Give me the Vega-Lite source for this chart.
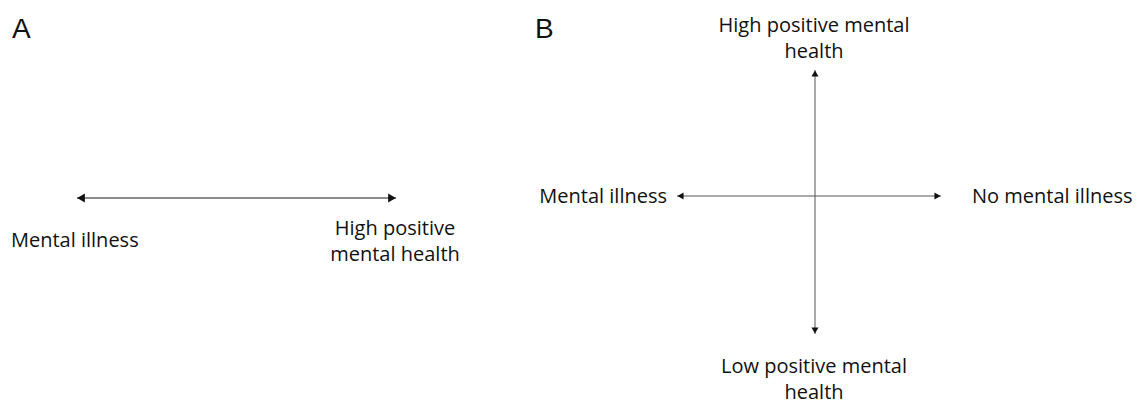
{
  "$schema": "https://vega.github.io/schema/vega-lite/v6.json",
  "width": 1137,
  "height": 405,
  "autosize": {"type": "fit", "contains": "padding"},
  "padding": 0,
  "background": "white",
  "config": {"view": {"stroke": null}},
  "datasets": {
    "lines": [
      {"panel": "A", "x1": 77, "x2": 396, "y1": 198, "y2": 198},
      {"panel": "B", "x1": 677, "x2": 941, "y1": 196, "y2": 196},
      {"panel": "B", "x1": 815, "x2": 815, "y1": 70, "y2": 334}
    ],
    "heads": [
      {"panel": "A", "x": 81, "y": 198, "dir": "left"},
      {"panel": "A", "x": 392, "y": 198, "dir": "right"},
      {"panel": "B", "x": 680.5, "y": 196, "dir": "left"},
      {"panel": "B", "x": 937.5, "y": 196, "dir": "right"},
      {"panel": "B", "x": 815, "y": 73.5, "dir": "up"},
      {"panel": "B", "x": 815, "y": 330.5, "dir": "down"}
    ],
    "labels": [
      {"t": "A", "x": 12, "y": 38, "kind": "letter", "align": "left"},
      {"t": "B", "x": 535, "y": 38, "kind": "letter", "align": "left"},
      {"t": "Mental illness", "x": 11, "y": 247, "kind": "label", "align": "left"},
      {"t": "High positive", "x": 395, "y": 235, "kind": "label", "align": "center"},
      {"t": "mental health", "x": 395, "y": 261, "kind": "label", "align": "center"},
      {"t": "Mental illness", "x": 667, "y": 203, "kind": "label", "align": "right"},
      {"t": "No mental illness", "x": 972, "y": 203, "kind": "label", "align": "left"},
      {"t": "High positive mental", "x": 814, "y": 32, "kind": "label", "align": "center"},
      {"t": "health", "x": 814, "y": 58, "kind": "label", "align": "center"},
      {"t": "Low positive mental", "x": 814, "y": 373, "kind": "label", "align": "center"},
      {"t": "health", "x": 814, "y": 399, "kind": "label", "align": "center"}
    ]
  },
  "layer": [
    {
      "data": {"name": "lines"},
      "transform": [{"filter": "datum.panel === 'A'"}],
      "mark": {"type": "rule", "color": "#8c8c8c", "strokeWidth": 1.8},
      "encoding": {
        "x": {"field": "x1", "type": "quantitative", "scale": {"domain": [0, 1137], "nice": false, "zero": false}, "axis": null},
        "x2": {"field": "x2"},
        "y": {"field": "y1", "type": "quantitative", "scale": {"domain": [0, 405], "nice": false, "zero": false, "reverse": true}, "axis": null},
        "y2": {"field": "y2"}
      }
    },
    {
      "data": {"name": "lines"},
      "transform": [{"filter": "datum.panel === 'B'"}],
      "mark": {"type": "rule", "color": "#555555", "strokeWidth": 1},
      "encoding": {
        "x": {"field": "x1", "type": "quantitative", "scale": {"domain": [0, 1137], "nice": false, "zero": false}, "axis": null},
        "x2": {"field": "x2"},
        "y": {"field": "y1", "type": "quantitative", "scale": {"domain": [0, 405], "nice": false, "zero": false, "reverse": true}, "axis": null},
        "y2": {"field": "y2"}
      }
    },
    {
      "data": {"name": "heads"},
      "mark": {"type": "point", "filled": true, "color": "#111111", "opacity": 1, "strokeWidth": 0},
      "encoding": {
        "x": {"field": "x", "type": "quantitative", "scale": {"domain": [0, 1137], "nice": false, "zero": false}, "axis": null},
        "y": {"field": "y", "type": "quantitative", "scale": {"domain": [0, 405], "nice": false, "zero": false, "reverse": true}, "axis": null},
        "shape": {"field": "dir", "type": "nominal", "scale": {"domain": ["left", "right", "up", "down"], "range": ["triangle-left", "triangle-right", "triangle-up", "triangle-down"]}, "legend": null},
        "size": {"field": "panel", "type": "nominal", "scale": {"domain": ["A", "B"], "range": [80, 50]}, "legend": null}
      }
    },
    {
      "data": {"name": "labels"},
      "transform": [{"filter": "datum.kind === 'letter'"}],
      "mark": {"type": "text", "font": "Liberation Sans", "fontSize": 28, "align": "left", "baseline": "alphabetic", "color": "#111111"},
      "encoding": {
        "x": {"field": "x", "type": "quantitative", "scale": {"domain": [0, 1137], "nice": false, "zero": false}, "axis": null},
        "y": {"field": "y", "type": "quantitative", "scale": {"domain": [0, 405], "nice": false, "zero": false, "reverse": true}, "axis": null},
        "text": {"field": "t"}
      }
    },
    {
      "data": {"name": "labels"},
      "transform": [{"filter": "datum.kind === 'label' && datum.align === 'left'"}],
      "mark": {"type": "text", "font": "Open Sans", "fontSize": 20, "align": "left", "baseline": "alphabetic", "color": "#111111"},
      "encoding": {
        "x": {"field": "x", "type": "quantitative", "scale": {"domain": [0, 1137], "nice": false, "zero": false}, "axis": null},
        "y": {"field": "y", "type": "quantitative", "scale": {"domain": [0, 405], "nice": false, "zero": false, "reverse": true}, "axis": null},
        "text": {"field": "t"}
      }
    },
    {
      "data": {"name": "labels"},
      "transform": [{"filter": "datum.kind === 'label' && datum.align === 'center'"}],
      "mark": {"type": "text", "font": "Open Sans", "fontSize": 20, "align": "center", "baseline": "alphabetic", "color": "#111111"},
      "encoding": {
        "x": {"field": "x", "type": "quantitative", "scale": {"domain": [0, 1137], "nice": false, "zero": false}, "axis": null},
        "y": {"field": "y", "type": "quantitative", "scale": {"domain": [0, 405], "nice": false, "zero": false, "reverse": true}, "axis": null},
        "text": {"field": "t"}
      }
    },
    {
      "data": {"name": "labels"},
      "transform": [{"filter": "datum.kind === 'label' && datum.align === 'right'"}],
      "mark": {"type": "text", "font": "Open Sans", "fontSize": 20, "align": "right", "baseline": "alphabetic", "color": "#111111"},
      "encoding": {
        "x": {"field": "x", "type": "quantitative", "scale": {"domain": [0, 1137], "nice": false, "zero": false}, "axis": null},
        "y": {"field": "y", "type": "quantitative", "scale": {"domain": [0, 405], "nice": false, "zero": false, "reverse": true}, "axis": null},
        "text": {"field": "t"}
      }
    }
  ]
}
